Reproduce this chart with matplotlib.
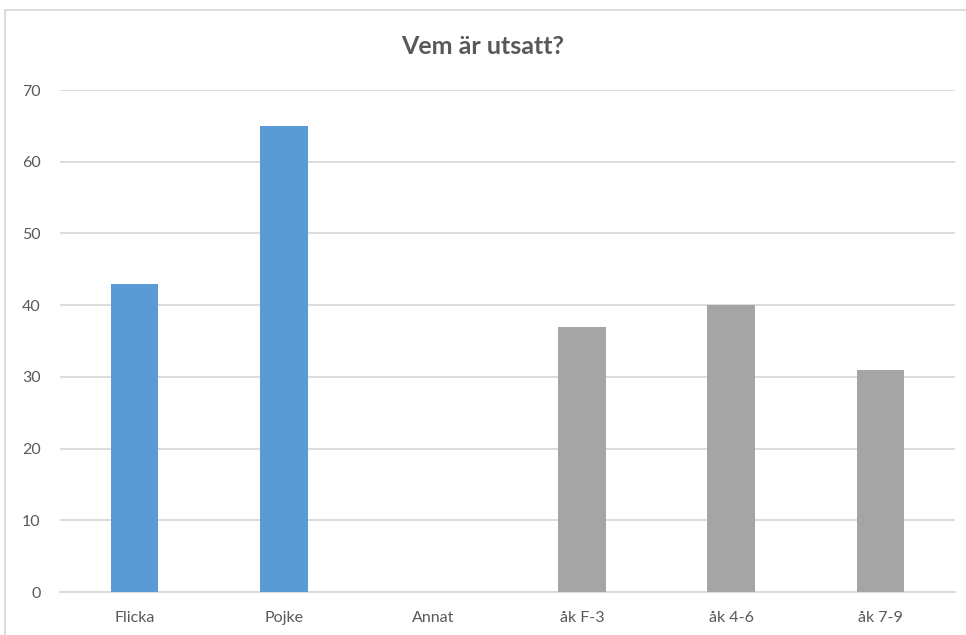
import matplotlib
matplotlib.use("Agg")
import matplotlib.pyplot as plt
from matplotlib.patches import Rectangle

categories = ["Flicka", "Pojke", "Annat", "åk F-3", "åk 4-6", "åk 7-9"]
values = [43, 65, 0, 37, 40, 31]
colors = ["#5B9BD5", "#5B9BD5", "#5B9BD5", "#A5A5A5", "#A5A5A5", "#A5A5A5"]
yticks = [0, 10, 20, 30, 40, 50, 60, 70]
title = "Vem är utsatt?"

plt.rcParams['font.family'] = ['Lato', 'DejaVu Sans']

fig = plt.figure(figsize=(9.66, 6.35), dpi=100)
ax = fig.add_axes([60/966, 1-592/635, (955-60)/966, (592-90)/635])

x = list(range(len(categories)))
ax.bar(x, values, width=0.32, color=colors, zorder=3)
ax.set_xlim(-0.5, len(categories)-0.5)
ax.set_ylim(0, 70)
ax.set_yticks(yticks)
ax.set_xticks(x)
ax.set_xticklabels(categories)
ax.grid(axis='y', color='#D9D9D9', linewidth=1.3, zorder=0)
for s in ['top', 'right', 'left']:
    ax.spines[s].set_visible(False)
ax.spines['bottom'].set_color('#D9D9D9')
ax.spines['bottom'].set_linewidth(1.3)
ax.tick_params(axis='both', length=0, colors='#595959', labelsize=11.5)
ax.tick_params(axis='y', pad=14)
ax.tick_params(axis='x', pad=14)

fig.text(0.5, 1-47/635, title, ha='center', va='center', fontsize=18,
         fontweight='bold', color='#595959')

fig.patches.append(Rectangle((5/966, -0.1), 1.2, 1-10/635+0.1,
                             transform=fig.transFigure, fill=False,
                             edgecolor='#D9D9D9', linewidth=1.3))

fig.savefig("out.png", dpi=100)
